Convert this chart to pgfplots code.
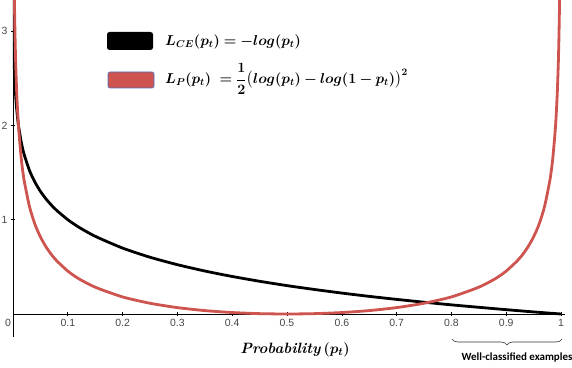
\documentclass[border=0pt]{standalone}
\usepackage{amsmath}
\usepackage{bm}
\usepackage{pgfplots}
\pgfplotsset{compat=1.18}
\usepackage{fontspec}
\newfontfamily\arial{Liberation Sans}
\newfontfamily\carlito{Carlito}
\usetikzlibrary{calc,decorations.pathreplacing}
\definecolor{lossred}{RGB}{206,84,80}
\definecolor{boxblue}{RGB}{68,114,196}
\definecolor{ticktext}{RGB}{70,70,70}

\pgfplotstableread{
p y
0.0004 3.398
0.0005 3.301
0.0007 3.155
0.001 3.000
0.0015 2.824
0.002 2.699
0.003 2.523
0.004 2.398
0.005 2.301
0.007 2.155
0.01 2.000
0.015 1.824
0.02 1.699
0.03 1.523
0.04 1.398
0.05 1.301
0.06 1.222
0.07 1.155
0.08 1.097
0.1 1.000
0.12 0.921
0.15 0.824
0.2 0.699
0.25 0.602
0.3 0.523
0.35 0.456
0.4 0.398
0.45 0.347
0.5 0.301
0.55 0.260
0.6 0.222
0.65 0.187
0.7 0.155
0.75 0.125
0.8 0.097
0.85 0.071
0.9 0.046
0.95 0.022
1.0 0.000
}\ce

\pgfplotstableread{
p y
0.0015 3.985
0.002 3.640
0.003 3.179
0.004 2.871
0.005 2.642
0.007 2.315
0.01 1.991
0.015 1.651
0.02 1.428
0.03 1.140
0.04 0.952
0.05 0.818
0.06 0.714
0.07 0.631
0.08 0.563
0.1 0.455
0.12 0.374
0.15 0.284
0.2 0.181
0.25 0.114
0.3 0.0677
0.35 0.0361
0.4 0.0155
0.45 0.0038
0.5 0.0
0.55 0.0038
0.6 0.0155
0.65 0.0361
0.7 0.0677
0.75 0.114
0.8 0.181
0.85 0.284
0.88 0.374
0.9 0.455
0.92 0.563
0.93 0.631
0.94 0.714
0.95 0.818
0.96 0.952
0.97 1.140
0.98 1.428
0.985 1.651
0.99 1.991
0.993 2.315
0.995 2.642
0.996 2.871
0.997 3.179
0.998 3.640
0.9985 3.985
}\pl

\begin{document}
\begin{tikzpicture}
\begin{axis}[
  x=548bp, y=94.3bp,
  axis lines=middle,
  axis line style={-, black, line width=0.6bp},
  xmin=0, xmax=1.008, ymin=-0.24, ymax=3.33,
  xtick={0.1,0.2,0.3,0.4,0.5,0.6,0.7,0.8,0.9,1},
  xticklabels={0.1,0.2,0.3,0.4,0.5,0.6,0.7,0.8,0.9,1},
  ytick={1,2,3},
  yticklabels={1,2,3},
  tick align=center,
  major tick length=4bp,
  tick style={black, line width=0.6bp},
  tick label style={font=\arial\fontsize{10.5}{12}\selectfont, text=ticktext},
  xticklabel style={anchor=north, yshift=0bp},
  yticklabel style={anchor=east, xshift=0bp},
  clip=true,
]
\addplot[black, line width=2.8bp, smooth, tension=0.4] table[x=p,y=y] {\ce};
\addplot[lossred, line width=2.8bp, smooth, tension=0.4] table[x=p,y=y] {\pl};
\coordinate (O) at (axis cs:0,0);
\end{axis}
\pgfresetboundingbox
\useasboundingbox ($(O)+(-13bp,-54bp)$) rectangle ($(O)+(559bp,314bp)$);
\path (O) ++(-5bp,-9bp) node[font=\arial\fontsize{10.5}{12}\selectfont, text=ticktext] {0};
\fill[black, rounded corners=2.5bp] ($(O)+(94bp,282bp)$) rectangle ($(O)+(140bp,264bp)$);
\filldraw[fill=lossred, draw=boxblue, line width=0.6bp, rounded corners=2bp] ($(O)+(95bp,242bp)$) rectangle ($(O)+(141bp,226bp)$);
\path (O) ++(152bp,272bp) node[anchor=west, inner sep=0pt, font=\fontsize{14}{16}\selectfont] {$\bm{L_{CE}(p_t) = -log(p_t)}$};
\path (O) ++(152bp,235bp) node[anchor=west, inner sep=0pt, font=\fontsize{14}{16}\selectfont] {$\bm{L_{P}(p_t)\ =\dfrac{1}{2}\bigl(log(p_t) - log(1-p_t)\bigr)^2}$};
\path (O) ++(282bp,-36bp) node[font=\fontsize{15}{17}\selectfont] {\textbf{\textit{Probability}}\,$\bm{(p_t)}$};
\draw[decorate, decoration={brace, amplitude=6bp}, line width=0.6bp, black!80] ($(O)+(549bp,-25bp)$) -- ($(O)+(439bp,-25bp)$);
\path (O) ++(504bp,-44bp) node[font=\carlito\bfseries\fontsize{11}{13}\selectfont] {Well-classified examples};
\end{tikzpicture}
\end{document}
